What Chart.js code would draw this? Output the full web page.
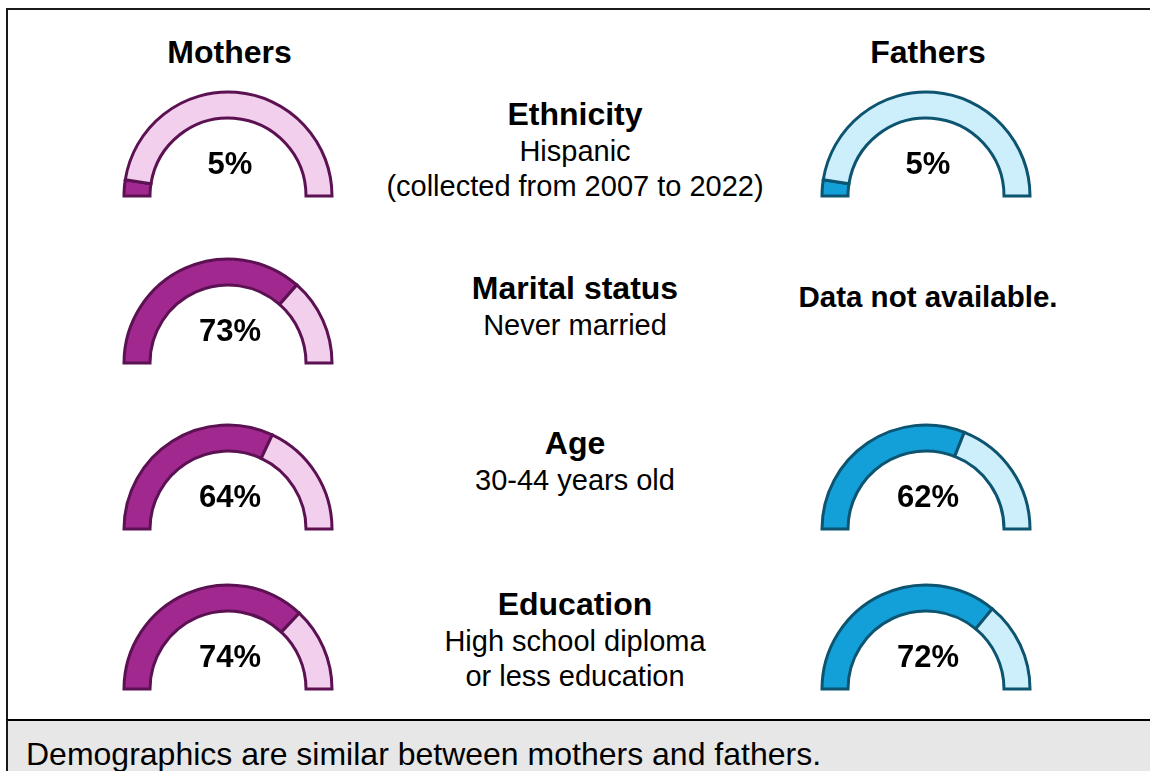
<!DOCTYPE html>
<html>
<head>
<meta charset="utf-8">
<script src="https://cdn.jsdelivr.net/npm/chart.js@4.4.1/dist/chart.umd.min.js"></script>
<style>
    body { margin: 0; background: #fff; font-family: "Liberation Sans", Arial, sans-serif; }
    #page { position: relative; width: 1150px; height: 771px; overflow: hidden; }
    .frame { position: absolute; left: 6px; top: 8px; width: 1160px; height: 714px; border-top: 2px solid #1a1a1a; border-left: 2px solid #1a1a1a; box-sizing: border-box; }
    .footer { position: absolute; left: 6px; top: 719px; width: 1160px; height: 60px; background: #e7e7e7; border-top: 2px solid #000; border-left: 2px solid #1a1a1a; box-sizing: border-box; font-size: 32px; line-height: 36px; padding: 15px 0 0 18px; color: #000; }
    .txt { position: absolute; text-align: center; color: #000; white-space: nowrap; transform: translate(-50%, -50%); line-height: 36px; }
    .head { font-weight: bold; font-size: 32px; }
    .sub { font-size: 29px; }
    .na { font-weight: bold; font-size: 29.5px; }
    canvas.gauge { position: absolute; }
</style>
</head>
<body>
<div id="page">
    <div class="frame"></div>
    <div class="footer">Demographics are similar between mothers and fathers.</div>
</div>

<script>
// Demographic gauges - share of mothers / fathers in each group
const categories = ['Ethnicity', 'Marital status', 'Age', 'Education'];
const subtitles = [
    ['Hispanic', '(collected from 2007 to 2022)'],
    ['Never married'],
    ['30-44 years old'],
    ['High school diploma', 'or less education']
];
const mothersPct = [5, 73, 64, 74];
const fathersPct = [5, null, 62, 72];
const groupLabels = ['Mothers', 'Fathers'];
const missingText = 'Data not available.';

const palette = {
    mothers: { fill: '#a1288f', rest: '#f2cfec', border: '#5b1152' },
    fathers: { fill: '#139fd8', rest: '#cdeefb', border: '#0d5470' }
};

// layout
const colX = { mothers: 227.5, fathers: 926, center: 575 };
const rowBase = [195.5, 362.5, 528.5, 688.5];
const rowHead = [114, 288, 443, 604];
const R = 104, PAD = 6;

const page = document.getElementById('page');

function addText(text, cls, x, y) {
    const div = document.createElement('div');
    div.className = 'txt ' + cls;
    div.style.left = x + 'px';
    div.style.top = y + 'px';
    div.textContent = text;
    page.appendChild(div);
}

const centerLabel = {
    id: 'centerLabel',
    afterDatasetsDraw(chart, args, opts) {
        const arc = chart.getDatasetMeta(0).data[0];
        const ctx = chart.ctx;
        ctx.save();
        ctx.font = 'bold 31px "Liberation Sans", Arial, sans-serif';
        ctx.fillStyle = '#000';
        ctx.textAlign = 'center';
        ctx.textBaseline = 'middle';
        ctx.fillText(opts.text, arc.x + 2, arc.y - 31);
        ctx.restore();
    }
};

function addGauge(value, colors, cx, baseY) {
    const canvas = document.createElement('canvas');
    canvas.className = 'gauge';
    canvas.width = 2 * R + 2 * PAD;
    canvas.height = R + 2 * PAD;
    canvas.style.left = (cx - R - PAD) + 'px';
    canvas.style.top = (baseY - R - PAD) + 'px';
    page.appendChild(canvas);

    new Chart(canvas.getContext('2d'), {
        type: 'doughnut',
        data: {
            labels: ['Share', 'Rest'],
            datasets: [{
                data: [value, 100 - value],
                backgroundColor: [colors.fill, colors.rest],
                borderColor: colors.border,
                borderWidth: 3,
                borderJoinStyle: 'miter'
            }]
        },
        options: {
            responsive: false,
            animation: false,
            rotation: -90,
            circumference: 180,
            radius: R,
            cutout: '75%',
            events: [],
            plugins: {
                legend: { display: false },
                tooltip: { enabled: false },
                centerLabel: { text: value + '%' }
            }
        },
        plugins: [centerLabel]
    });
}

addText(groupLabels[0], 'head', colX.mothers + 2, 52);
addText(groupLabels[1], 'head', colX.fathers + 2, 52);

categories.forEach((cat, i) => {
    addText(cat, 'head', colX.center, rowHead[i]);
    subtitles[i].forEach((line, j) => {
        addText(line, 'sub', colX.center, rowHead[i] + 37 + j * 35);
    });

    addGauge(mothersPct[i], palette.mothers, colX.mothers, rowBase[i]);
    if (fathersPct[i] === null) {
        addText(missingText, 'na', colX.fathers + 2, rowHead[i] + 9);
    } else {
        addGauge(fathersPct[i], palette.fathers, colX.fathers, rowBase[i]);
    }
});
</script>
</body>
</html>
